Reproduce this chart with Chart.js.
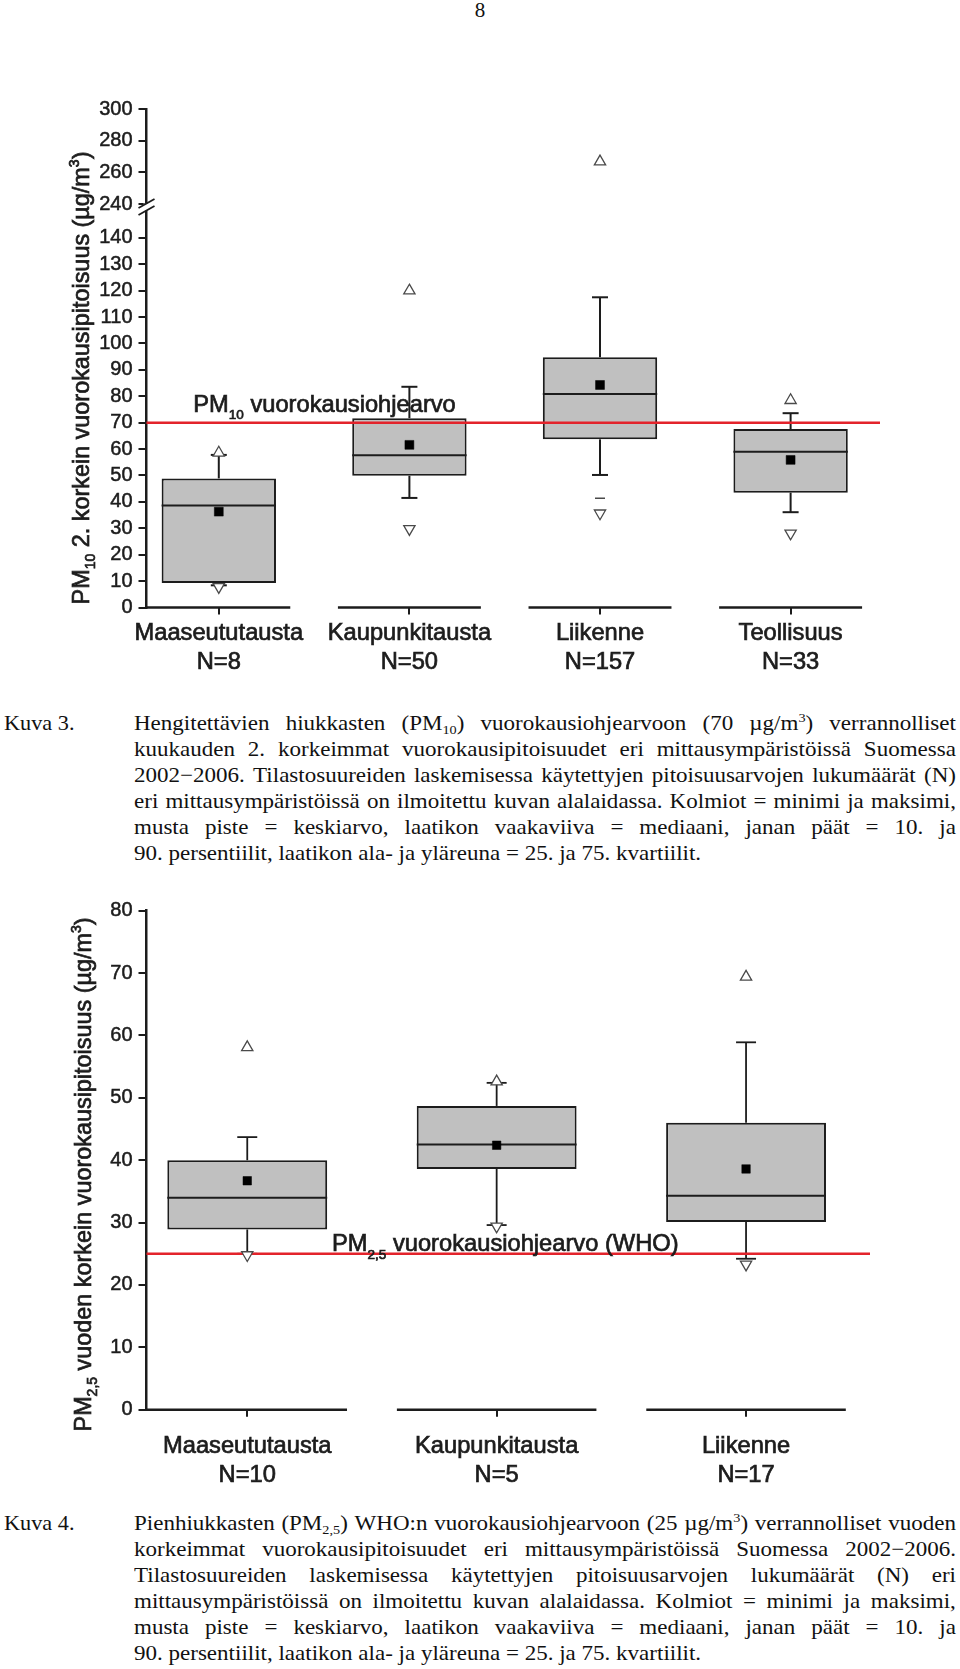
<!DOCTYPE html>
<html lang="fi">
<head>
<meta charset="utf-8">
<title>Kuva 3 ja Kuva 4</title>
<script src="https://cdn.jsdelivr.net/npm/chart.js@4.4.1/dist/chart.umd.min.js"></script>
<style>
  html, body { margin: 0; padding: 0; background: #fff; }
  body { position: relative; width: 960px; height: 1669px; overflow: hidden; }
  canvas { position: absolute; left: 0; }
  .page-no { position: absolute; top: -2px; left: 0; width: 960px; text-align: center;
             font: 21px/25.6px 'Liberation Serif', 'Times New Roman', serif; color: #111; }
  .caption { position: absolute; left: 0; width: 960px;
             font: 21px/26px 'Liberation Serif', 'Times New Roman', serif; color: #111; }
  .caption .tag { position: absolute; left: 4px; top: 0; white-space: nowrap;
                  transform: scaleX(1.06); transform-origin: 0 0; }
  .caption .text { position: absolute; left: 134px; top: 0; width: 750px;
                   transform: scaleX(1.096); transform-origin: 0 0; }
  .caption .just { display: flex; justify-content: space-between; }
  .caption .just span { white-space: nowrap; }
  sub, sup { font-size: 13px; line-height: 0; }
  sub { vertical-align: -4px; }
  sup { vertical-align: 8px; }
</style>
</head>
<body>
<div class="page-no">8</div>

<canvas id="pm10" width="960" height="640" style="top:60px;width:960px;height:640px"></canvas>
<div class="caption" style="top:709.5px">
  <div class="tag">Kuva 3.</div>
  <div class="text" id="cap3"></div>
</div>

<canvas id="pm25" width="960" height="620" style="top:880px;width:960px;height:620px"></canvas>
<div class="caption" style="top:1510px">
  <div class="tag">Kuva 4.</div>
  <div class="text" id="cap4"></div>
</div>

<script>
// ===============================
// Kuva 3: PM10, 2nd highest daily values
// ===============================
const pm10Cats = ["Maaseututausta", "Kaupunkitausta", "Liikenne", "Teollisuus"];
const pm10N    = [8, 50, 157, 33];
const pm10Min  = [7.8, 29.8, 35.7, 28.1];
const pm10P10  = [8.4, 41.5, 50.2, 36.1];
const pm10Q1   = [9.3, 49.9, 63.7, 43.5];
const pm10Med  = [38.6, 57.7, 80.9, 59.0];
const pm10Q3   = [48.9, 71.7, 94.8, 67.6];
const pm10P90  = [57.8, 83.6, 117.5, 73.6];
const pm10Max  = [58.6, 120.0, 266.8, 78.5];
const pm10Mean = [36.3, 61.6, 84.3, 55.9];
const pm10P1   = [null, null, 41.4, null];
const pm10TicksLow  = [0, 10, 20, 30, 40, 50, 60, 70, 80, 90, 100, 110, 120, 130, 140];
const pm10TicksHigh = [240, 260, 280, 300];
const pm10Limit = 70;

// ===============================
// Kuva 4: PM2,5, highest daily values of the year
// ===============================
const pm25Cats = ["Maaseututausta", "Kaupunkitausta", "Liikenne"];
const pm25N    = [10, 5, 17];
const pm25Min  = [24.8, 29.4, 23.3];
const pm25P10  = [25.0, 29.6, 24.2];
const pm25Q1   = [28.9, 38.6, 30.1];
const pm25Med  = [34.0, 42.5, 34.3];
const pm25Q3   = [40.0, 48.7, 46.0];
const pm25P90  = [43.7, 52.4, 58.9];
const pm25Max  = [58.1, 52.6, 69.4];
const pm25Mean = [36.7, 42.4, 38.6];
const pm25Ticks = [0, 10, 20, 30, 40, 50, 60, 70, 80];
const pm25Limit = 25;

const cap3Lines = [
  "Hengitettävien hiukkasten (PM<sub>10</sub>) vuorokausiohjearvoon (70 µg/m<sup>3</sup>) verrannolliset",
  "kuukauden 2. korkeimmat vuorokausipitoisuudet eri mittausympäristöissä Suomessa",
  "2002−2006. Tilastosuureiden laskemisessa käytettyjen pitoisuusarvojen lukumäärät (N)",
  "eri mittausympäristöissä on ilmoitettu kuvan alalaidassa. Kolmiot = minimi ja maksimi,",
  "musta piste = keskiarvo, laatikon vaakaviiva = mediaani, janan päät = 10. ja",
  "90. persentiilit, laatikon ala- ja yläreuna = 25. ja 75. kvartiilit."
];
const cap4Lines = [
  "Pienhiukkasten (PM<sub>2,5</sub>) WHO:n vuorokausiohjearvoon (25 µg/m<sup>3</sup>) verrannolliset vuoden",
  "korkeimmat vuorokausipitoisuudet eri mittausympäristöissä Suomessa 2002−2006.",
  "Tilastosuureiden laskemisessa käytettyjen pitoisuusarvojen lukumäärät (N) eri",
  "mittausympäristöissä on ilmoitettu kuvan alalaidassa. Kolmiot = minimi ja maksimi,",
  "musta piste = keskiarvo, laatikon vaakaviiva = mediaani, janan päät = 10. ja",
  "90. persentiilit, laatikon ala- ja yläreuna = 25. ja 75. kvartiilit."
];

// ---------- captions ----------
function fillCaption(el, lines) {
  el.innerHTML = lines.map((ln, i) => i < lines.length - 1
    ? '<div class="just">' + ln.split(' ').map(w => '<span>' + w + '</span>').join('') + '</div>'
    : '<div>' + ln + '</div>').join('');
}
fillCaption(document.getElementById("cap3"), cap3Lines);
fillCaption(document.getElementById("cap4"), cap4Lines);

// ---------- chart helpers ----------
const FONT = "'Liberation Sans', Arial, Helvetica, sans-serif";
const INK = "#1c1c1c";
const RED = "#e3232b";
const BIG = 23.7;

Chart.defaults.font.family = FONT;
Chart.defaults.color = INK;

function pts(values, keep) {
  const out = [];
  values.forEach((v, i) => {
    if (v != null && (!keep || keep(v))) out.push({x: i + 1, y: v});
  });
  return out;
}

function seg(ctx, x1, y1, x2, y2) {
  ctx.beginPath();
  ctx.moveTo(x1, y1);
  ctx.lineTo(x2, y2);
  ctx.stroke();
}

// parts: [text, size, dy]
function richText(ctx, parts, x, y, center) {
  let w = 0;
  parts.forEach(p => { ctx.font = p[1] + "px " + FONT; w += ctx.measureText(p[0]).width; });
  let cx = center ? x - w / 2 : x;
  ctx.textAlign = "left";
  ctx.textBaseline = "alphabetic";
  ctx.fillStyle = INK;
  ctx.strokeStyle = INK;
  ctx.lineWidth = 0.7;
  parts.forEach(p => {
    ctx.font = p[1] + "px " + FONT;
    ctx.fillText(p[0], cx, y + (p[2] || 0));
    ctx.strokeText(p[0], cx, y + (p[2] || 0));
    cx += ctx.measureText(p[0]).width;
  });
}

// whiskers, medians, guideline, axis pieces and titles
function boxParts(s) {
  const px = (chart, v) => {
    const top = chart.scales.yTop;
    const sc = (top && v >= top.min) ? top : chart.scales.y;
    return sc.getPixelForValue(v);
  };
  return {
    id: "boxParts",
    beforeDatasetsDraw(chart) {
      const ctx = chart.ctx;
      const bars = chart.getDatasetMeta(0).data;
      ctx.save();
      ctx.strokeStyle = INK;
      ctx.lineWidth = s.whisker;
      bars.forEach((bar, i) => {
        const cap = bar.width * s.capFrac / 2;
        const hi = px(chart, s.p90[i]);
        const lo = px(chart, s.p10[i]);
        seg(ctx, bar.x, px(chart, s.q3[i]), bar.x, hi);
        seg(ctx, bar.x - cap, hi, bar.x + cap, hi);
        seg(ctx, bar.x, px(chart, s.q1[i]), bar.x, lo);
        seg(ctx, bar.x - cap, lo, bar.x + cap, lo);
      });
      ctx.restore();
    },
    afterDatasetDraw(chart, args) {
      if (args.index !== 0) return;
      const ctx = chart.ctx, area = chart.chartArea;
      const bars = chart.getDatasetMeta(0).data;
      ctx.save();
      ctx.strokeStyle = INK;
      ctx.lineWidth = 2;
      bars.forEach((bar, i) => {
        const y = px(chart, s.med[i]);
        seg(ctx, bar.x - bar.width / 2, y, bar.x + bar.width / 2, y);
      });
      // guideline
      const ly = px(chart, s.limit);
      ctx.strokeStyle = RED;
      ctx.lineWidth = 2.5;
      seg(ctx, area.left, ly, area.right, ly);
      // guideline label
      richText(ctx, s.limitText,
        chart.scales.x.getPixelForValue(s.limitAt[0]), px(chart, s.limitAt[1]), false);
      ctx.restore();
    },
    afterDraw(chart) {
      const ctx = chart.ctx, area = chart.chartArea, xs = chart.scales.x;
      ctx.save();
      ctx.strokeStyle = INK;
      ctx.lineWidth = 2.5;
      s.cats.forEach((c, i) => {
        const a = Math.max(i + 1 - s.segHalf, xs.min);
        const b = i + 1 + s.segHalf;
        seg(ctx, xs.getPixelForValue(a) - (i === 0 ? 1.25 : 0), area.bottom, xs.getPixelForValue(b), area.bottom);
      });
      // axis break
      if (chart.scales.yTop) {
        const b = chart.scales.y.top;
        const x0 = area.left;
        ctx.fillStyle = "#fff";
        ctx.fillRect(x0 - 3, b - 3.5, 6, 7);
        ctx.lineWidth = 1.8;
        seg(ctx, x0 - 8, b + 1, x0 + 8, b - 8);
        seg(ctx, x0 - 8, b + 8, x0 + 8, b - 1);
      }
      // y title
      ctx.translate(s.titleX, s.titleY);
      ctx.rotate(-Math.PI / 2);
      richText(ctx, s.title, 0, 0, true);
      ctx.restore();
    }
  };
}

function yAxis(extra) {
  return Object.assign({
    type: "linear",
    position: "left",
    grid: {display: true, drawOnChartArea: false, drawTicks: true, tickLength: 8, lineWidth: 2, color: INK},
    border: {display: true, width: 2.5, color: INK},
    ticks: {font: {size: 20}, color: INK, padding: 6, autoSkip: false,
            textStrokeColor: INK, textStrokeWidth: 0.5, callback: v => String(v)},
    afterFit: sc => { sc.width = 146.5; }
  }, extra);
}

function xAxis(cats, n, xMin, xMax, pad, height) {
  return {
    type: "linear",
    position: "bottom",
    min: xMin,
    max: xMax,
    offset: false,
    grid: {display: true, offset: false, drawOnChartArea: false, drawTicks: true, tickLength: 7, lineWidth: 2, color: INK},
    border: {display: false},
    afterBuildTicks: sc => { sc.ticks = cats.map((c, i) => ({value: i + 1})); },
    ticks: {
      font: {size: BIG, lineHeight: 29 / BIG},
      color: INK,
      textStrokeColor: INK,
      textStrokeWidth: 0.7,
      padding: pad,
      maxRotation: 0,
      autoSkip: false,
      callback: (v, i) => [cats[i], "N=" + n[i]]
    },
    afterFit: sc => { sc.height = height; }
  };
}

function pointSet(data, style, axis, extra) {
  return Object.assign({
    type: "scatter",
    data: data,
    yAxisID: axis,
    pointStyle: style,
    radius: 6.5,
    backgroundColor: "#fff",
    borderColor: "#4a4a4a",
    borderWidth: 1.3,
    order: 0
  }, extra || {});
}

// ---------- Graph 1 ----------
const pm10Break = 200;

new Chart(document.getElementById("pm10"), {
  type: "bar",
  data: {
    datasets: [
      {
        type: "bar",
        data: pm10Cats.map((c, i) => ({x: i + 1, y: [pm10Q1[i], pm10Q3[i]]})),
        yAxisID: "y",
        backgroundColor: "#c0c0c0",
        borderColor: INK,
        borderWidth: 2,
        borderSkipped: false,
        barPercentage: 0.6,
        categoryPercentage: 1,
        order: 10
      },
      pointSet(pts(pm10Mean), "rect", "y", {radius: 6.3, backgroundColor: "#000", borderColor: "#000", borderWidth: 0.5}),
      pointSet(pts(pm10Max, v => v < pm10Break), "triangle", "y"),
      pointSet(pts(pm10Max, v => v >= pm10Break), "triangle", "yTop"),
      pointSet(pts(pm10Min), "triangle", "y", {rotation: 180}),
      pointSet(pts(pm10P1), "line", "y", {radius: 5, borderWidth: 1.5})
    ]
  },
  options: {
    responsive: false,
    animation: false,
    events: [],
    layout: {padding: {top: 49, right: 80, bottom: 0, left: 0}},
    plugins: {legend: {display: false}, tooltip: {enabled: false}},
    scales: {
      x: xAxis(pm10Cats, pm10N, 0.6207, 4.469, 4, 92.5),
      y: yAxis({
        min: 0, max: 151.7, stack: "pm10", stackWeight: 400.5, weight: 0,
        afterBuildTicks: sc => { sc.ticks = pm10TicksLow.map(v => ({value: v})); }
      }),
      yTop: yAxis({
        axis: "y", min: 238.1, max: 300, stack: "pm10", stackWeight: 98, weight: 1,
        afterBuildTicks: sc => { sc.ticks = pm10TicksHigh.map(v => ({value: v})); }
      })
    }
  },
  plugins: [boxParts({
    cats: pm10Cats, p10: pm10P10, q1: pm10Q1, med: pm10Med, q3: pm10Q3, p90: pm10P90,
    whisker: 2, capFrac: 0.14, segHalf: 0.375,
    limit: pm10Limit,
    limitAt: [0.866, 74.2],
    limitText: [["PM", BIG], ["10", 13.5, 7], [" vuorokausiohjearvo", BIG]],
    titleX: 88.5, titleY: 318,
    title: [["PM", 23.4], ["10", 14, 6], [" 2. korkein vuorokausipitoisuus (µg/m", 23.4], ["3", 14, -10], [")", 23.4]]
  })]
});

// ---------- Graph 2 ----------
new Chart(document.getElementById("pm25"), {
  type: "bar",
  data: {
    datasets: [
      {
        type: "bar",
        data: pm25Cats.map((c, i) => ({x: i + 1, y: [pm25Q1[i], pm25Q3[i]]})),
        yAxisID: "y",
        backgroundColor: "#c0c0c0",
        borderColor: INK,
        borderWidth: 2,
        borderSkipped: false,
        barPercentage: 0.641,
        categoryPercentage: 1,
        order: 10
      },
      pointSet(pts(pm25Mean), "rect", "y", {radius: 6, backgroundColor: "#000", borderColor: "#000", borderWidth: 0.5}),
      pointSet(pts(pm25Max), "triangle", "y"),
      pointSet(pts(pm25Min), "triangle", "y", {rotation: 180})
    ]
  },
  options: {
    responsive: false,
    animation: false,
    events: [],
    layout: {padding: {top: 30.7, right: 90, bottom: 0, left: 0}},
    plugins: {legend: {display: false}, tooltip: {enabled: false}},
    scales: {
      x: xAxis(pm25Cats, pm25N, 0.596, 3.497, 15, 90.3),
      y: yAxis({
        min: 0, max: 80,
        afterBuildTicks: sc => { sc.ticks = pm25Ticks.map(v => ({value: v})); }
      })
    }
  },
  plugins: [boxParts({
    cats: pm25Cats, p10: pm25P10, q1: pm25Q1, med: pm25Med, q3: pm25Q3, p90: pm25P90,
    whisker: 1.8, capFrac: 0.125, segHalf: 0.40,
    limit: pm25Limit,
    limitAt: [1.340, 25.5],
    limitText: [["PM", BIG], ["2,5", 13.5, 8], [" vuorokausiohjearvo (WHO)", BIG]],
    titleX: 90.5, titleY: 294.5,
    title: [["PM", 23.4], ["2,5", 14, 6], [" vuoden korkein vuorokausipitoisuus (µg/m", 23.4], ["3", 14, -10], [")", 23.4]]
  })]
});
</script>
</body>
</html>
